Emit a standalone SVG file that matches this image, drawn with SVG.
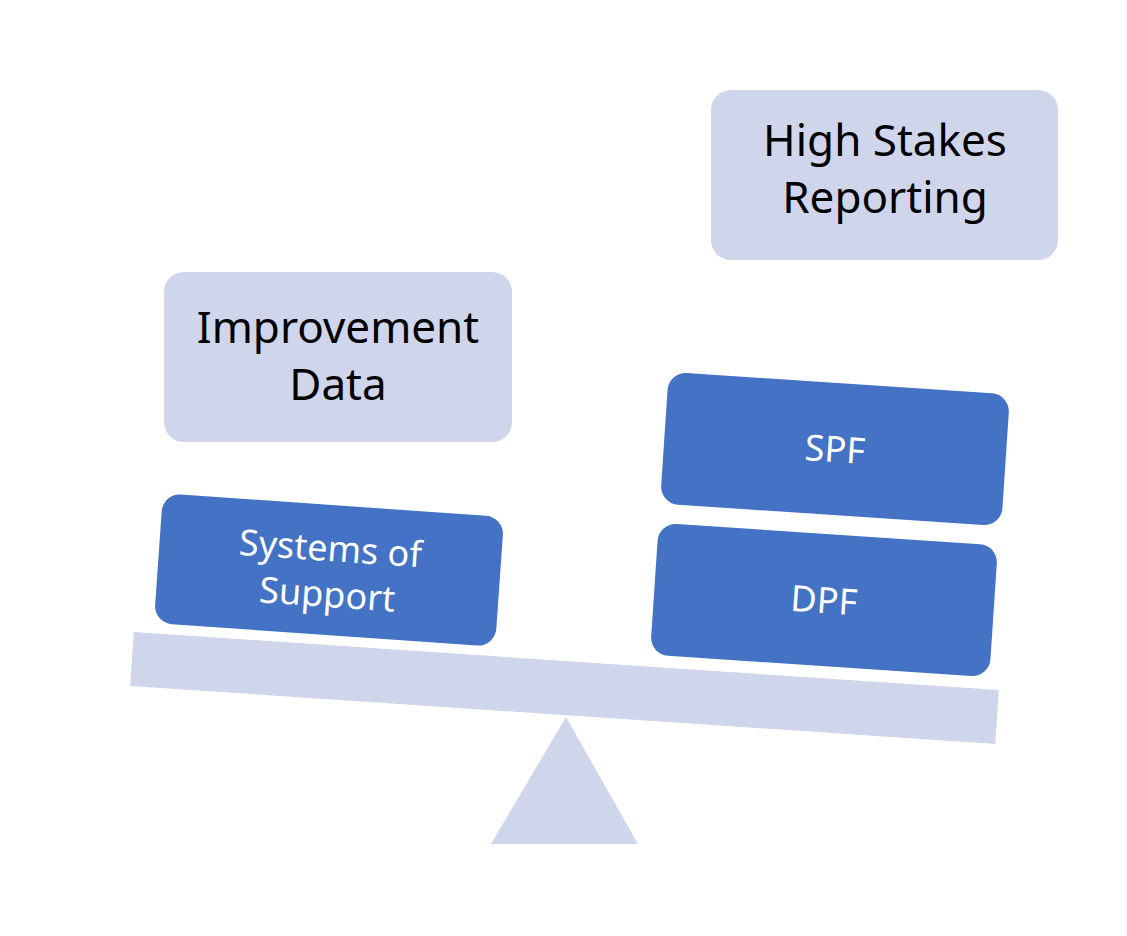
<svg xmlns="http://www.w3.org/2000/svg" width="1127" height="936" viewBox="0 0 1127 936">
<style>
.light{fill:#CFD5EA}
.blue{fill:#4472C4}
.dark{font-family:"Noto Sans","Open Sans",sans-serif;font-size:44px;fill:#000;text-anchor:middle}
.white{font-family:"Noto Sans","Open Sans",sans-serif;font-size:36px;fill:#fff;text-anchor:middle}
</style>
<rect width="1127" height="936" fill="#fff"/>
<g id="fulcrum"><polygon class="light" points="566,717 638,844 491,844"/></g>
<g id="beam"><rect class="light" x="-433.5" y="-27" width="867" height="54" transform="translate(564.5,688) rotate(3.84)"/></g>
<g id="connectors"></g>
<g id="improvement-data">
<rect class="light" x="164" y="272" width="348" height="170" rx="20"/>
<text class="dark" x="338" y="343">Improvement</text>
<text class="dark" x="338" y="400">Data</text>
</g>
<g id="high-stakes-reporting">
<rect class="light" x="711" y="90" width="347" height="170" rx="20"/>
<text class="dark" x="885" y="156">High Stakes</text>
<text class="dark" x="885" y="213">Reporting</text>
</g>
<g id="systems-of-support" transform="translate(329,570) rotate(4)">
<rect class="blue" x="-171" y="-65" width="342" height="130" rx="18"/>
<text class="white" x="0" y="-9">Systems of</text>
<text class="white" x="0" y="37">Support</text>
</g>
<g id="spf" transform="translate(835,449) rotate(3.8)">
<rect class="blue" x="-171" y="-66" width="342" height="132" rx="18"/>
<text class="white" x="0" y="13">SPF</text>
</g>
<g id="dpf" transform="translate(824,600) rotate(3.8)">
<rect class="blue" x="-170" y="-66" width="340" height="132" rx="18"/>
<text class="white" x="0" y="13">DPF</text>
</g>
</svg>
